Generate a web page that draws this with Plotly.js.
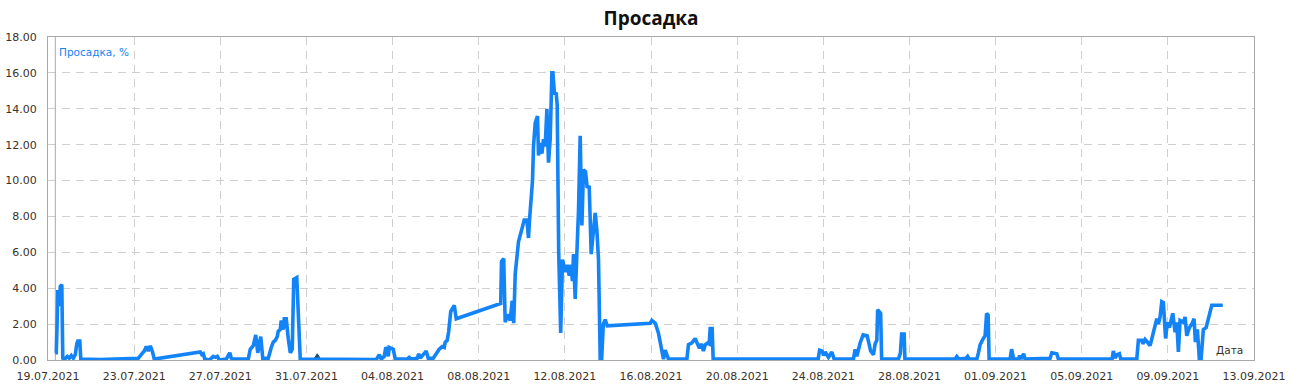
<!DOCTYPE html>
<html>
<head>
<meta charset="utf-8">
<script src="https://cdn.plot.ly/plotly-3.0.1.min.js"></script>
<style>html,body{margin:0;padding:0;background:#fff;}#chart{width:1290px;height:391px;}</style>
</head>
<body>
<div id="chart"></div>
<script>
// Start date of the time axis
const startDate = "2021-07-19";
const endDate = "2021-09-13";
// Time of each point, in days since 19.07.2021
const days = [
0.339,0.385,0.422,0.455,0.515,0.571,0.641,0.687,0.733,0.896,0.989,1.082,1.175,1.267,1.337,1.383,1.476,1.523,
2.428,3.357,4.192,4.331,4.471,4.564,4.657,4.749,4.842,4.935,7.070,7.140,7.210,7.280,7.489,7.674,7.767,7.860,7.953,
8.278,8.440,8.510,8.603,9.299,9.392,9.531,9.647,9.740,9.879,9.972,10.228,10.367,10.460,10.553,10.646,10.692,10.785,
10.831,10.924,10.970,11.063,11.156,11.249,11.342,11.411,11.551,11.620,11.713,
15.241,15.381,15.474,15.613,15.683,15.752,15.799,15.845,15.938,16.031,16.124,16.681,16.773,16.866,17.145,17.214,17.284,
17.562,17.655,17.887,18.027,18.166,18.305,18.398,18.445,18.538,18.607,18.700,18.863,18.956,
21.021,21.058,21.161,21.230,21.346,21.462,21.555,21.625,21.695,21.848,22.006,22.112,22.238,22.312,22.358,22.423,22.498,
22.544,22.623,22.730,22.776,22.855,22.934,23.008,23.087,23.166,23.240,23.319,23.398,23.445,23.519,23.598,23.644,23.714,
23.807,23.890,24.016,24.109,24.202,24.281,24.355,24.401,24.480,24.559,24.633,24.712,24.791,24.865,24.958,25.037,25.130,
25.223,25.330,25.409,25.488,25.562,25.641,25.710,25.785,25.873,25.966,27.962,28.041,28.199,28.347,28.412,28.496,28.579,
28.658,28.737,28.812,29.666,29.740,29.898,30.051,30.158,30.251,30.330,30.437,30.515,30.631,30.701,30.747,30.840,30.887,
35.761,35.831,35.947,36.017,36.087,36.240,36.397,36.504,37.400,37.479,37.558,37.711,37.851,38.036,38.106,38.199,38.329,
38.408,38.487,38.523,38.663,38.709,39.490,39.582,39.638,39.754,39.791,42.121,42.200,42.307,42.632,42.702,42.771,43.129,
43.203,43.282,43.408,43.514,43.584,43.654,43.700,44.675,44.744,44.838,45.070,45.116,45.186,45.302,45.371,46.532,46.611,
46.843,46.917,49.410,49.471,49.550,49.643,49.749,49.814,50.557,50.631,50.789,50.836,50.943,51.049,51.175,51.300,51.407,
51.486,51.560,51.639,51.718,51.792,51.894,51.978,52.071,52.149,52.228,52.335,52.414,52.489,52.567,52.721,52.800,52.879,
52.999,53.111,53.217,53.278,53.370,53.463,53.542,53.649,53.774,53.882,54.039,54.550
];
// Drawdown, %
const drawdown = [
0.4,0.4,2.0,3.9,3.0,4.1,4.2,0.1,0.0,0.2,0.1,0.25,0.1,0.3,0.9,1.05,1.05,0.05,
0.02,0.05,0.1,0.3,0.5,0.75,0.5,0.78,0.5,0.05,0.45,0.3,0.35,0.05,0.0,0.2,0.15,0.2,0.0,
0.05,0.4,0.1,0.05,0.05,0.6,0.8,1.4,0.4,1.3,0.1,0.1,0.7,1.0,1.1,1.3,1.6,1.7,
2.2,1.7,2.3,2.3,1.2,0.4,0.6,4.5,4.6,3.0,0.05,
0.02,0.3,0.05,0.2,0.7,0.6,0.2,0.7,0.65,0.6,0.05,0.05,0.15,0.05,0.1,0.35,0.1,
0.5,0.1,0.1,0.35,0.6,0.75,0.7,1.0,1.1,1.6,2.7,3.05,2.3,
3.15,5.5,5.65,2.1,2.55,2.2,3.3,2.05,4.8,6.6,7.3,7.8,7.8,6.8,7.8,8.8,10.0,
11.9,13.2,13.6,11.4,12.1,11.5,12.3,11.9,14.0,11.0,12.3,16.0,16.0,14.8,14.9,14.2,6.0,
1.5,5.6,4.9,5.3,4.7,5.3,4.4,5.9,3.4,6.0,8.3,12.5,7.5,10.6,10.5,9.6,9.7,
5.9,7.5,8.2,7.2,5.6,0.1,0.1,2.0,2.25,1.9,2.05,2.2,2.05,1.5,1.1,0.7,0.05,
0.55,0.25,0.05,0.05,0.85,0.95,1.2,0.9,0.65,0.9,0.5,0.85,0.95,0.9,1.75,1.75,0.05,
0.05,0.55,0.5,0.25,0.45,0.15,0.45,0.05,0.05,0.6,0.2,0.95,1.4,1.35,1.0,0.5,0.3,
0.9,1.1,2.8,2.6,0.05,0.05,0.4,1.45,1.45,0.05,0.05,0.2,0.05,0.1,0.2,0.05,0.05,
0.4,0.85,1.15,1.35,2.6,2.5,0.05,0.05,0.6,0.05,0.05,0.25,0.05,0.35,0.05,0.1,0.4,
0.35,0.05,0.05,0.5,0.1,0.3,0.35,0.05,0.05,1.1,1.1,0.9,1.15,1.0,0.8,1.4,1.95,
2.3,2.0,2.4,3.25,3.2,1.2,2.1,1.8,2.2,2.6,1.55,2.1,0.45,2.2,2.1,2.4,1.35,
1.8,2.0,2.3,1.0,1.7,0.05,0.05,1.7,1.8,2.3,3.05,3.05
];
// Small dark marker near 31.07.2021
const markDays = [12.317, 12.502, 12.688];
const markValues = [0, 0.35, 0];

const yTicks = [0,2,4,6,8,10,12,14,16,18];
const yTickText = ["0.00","2.00","4.00","6.00","8.00","10.00","12.00","14.00","16.00","18.00"];

const t0 = Date.parse(startDate + "T00:00:00Z");
const toDate = d => new Date(t0 + d * 86400000).toISOString().slice(0, 19).replace("T", " ");
const xs = days.map(toDate);
const mx = markDays.map(toDate);

const textColor = "#3a3128";
const gridColor = "#cfcfcf";
const blue = "#1383f8";

const traces = [
  {x: [xs[0], xs[0]], y: [0, 18], mode: "lines", line: {color: "#a9a9a9", width: 1}, hoverinfo: "skip"},
  {x: mx, y: markValues, mode: "lines", fill: "tozeroy", fillcolor: "#1d4f73", line: {color: "#1d4f73", width: 1}, hoverinfo: "skip"},
  {x: xs, y: drawdown, mode: "lines", line: {color: blue, width: 3.6, shape: "linear"}, name: "Просадка, %"}
];

const layout = {
  width: 1290, height: 391,
  margin: {l: 48, r: 36, t: 37, b: 31, pad: 0},
  paper_bgcolor: "#ffffff", plot_bgcolor: "#ffffff",
  showlegend: false,
  title: {text: "<b>Просадка</b>", font: {family: "Open Sans, DejaVu Sans, sans-serif", size: 19, color: "#111111"},
          x: 0.5, xref: "paper", y: 1 - 18/391, yref: "container", yanchor: "middle"},
  xaxis: {
    type: "date", range: [startDate, endDate],
    tick0: startDate, dtick: 4 * 86400000, tickformat: "%d.%m.%Y",
    showgrid: true, gridcolor: gridColor, griddash: "8px,6px", gridwidth: 1,
    showline: true, linecolor: "#a9a9a9", linewidth: 1, mirror: true,
    ticks: "", ticklabelstandoff: 6, zeroline: false,
    tickfont: {family: "DejaVu Sans, Verdana, sans-serif", size: 11, color: textColor}
  },
  yaxis: {
    range: [0, 18], tickvals: yTicks, ticktext: yTickText,
    showgrid: true, gridcolor: gridColor, griddash: "8px,6px", gridwidth: 1,
    showline: true, linecolor: "#a9a9a9", linewidth: 1, mirror: true,
    ticks: "", ticklabelstandoff: 8, zeroline: false,
    tickfont: {family: "DejaVu Sans, Verdana, sans-serif", size: 11, color: textColor}
  },
  annotations: [
    {text: "Просадка, %", xref: "paper", yref: "paper", x: 0.0075, y: 0.955, xanchor: "left", yanchor: "middle",
     showarrow: false, font: {family: "DejaVu Sans, Verdana, sans-serif", size: 10.5, color: blue}},
    {text: "Дата", xref: "paper", yref: "paper", x: 0.9925, y: 0.031, xanchor: "right", yanchor: "middle",
     showarrow: false, font: {family: "DejaVu Sans, Verdana, sans-serif", size: 10.5, color: textColor}}
  ]
};

Plotly.newPlot("chart", traces, layout, {displayModeBar: false, staticPlot: true});
</script>
</body>
</html>
